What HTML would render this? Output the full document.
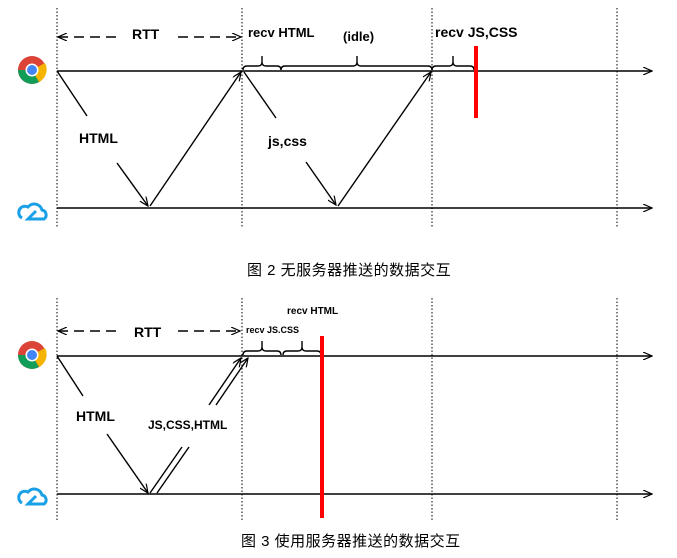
<html><body style="margin:0;background:#fff">
<svg width="677" height="558" xmlns="http://www.w3.org/2000/svg" font-family="Liberation Sans, Noto Sans CJK SC, sans-serif">
<defs><marker id="a" markerWidth="10" markerHeight="8" refX="9" refY="4" orient="auto-start-reverse" markerUnits="userSpaceOnUse"><path d="M0,0 L9,4 L0,8" fill="none" stroke="#000" stroke-width="1.2"/></marker></defs>
<g stroke="#000" stroke-width="1" stroke-dasharray="1.5,2">
<line x1="57" y1="8" x2="57" y2="228"/><line x1="242" y1="8" x2="242" y2="228"/><line x1="432" y1="8" x2="432" y2="228"/><line x1="617" y1="8" x2="617" y2="228"/>
<line x1="57" y1="298" x2="57" y2="520"/><line x1="242" y1="298" x2="242" y2="520"/><line x1="432" y1="298" x2="432" y2="520"/><line x1="617" y1="298" x2="617" y2="520"/>
</g>
<g stroke="#000" stroke-width="1.4" fill="none">
<line x1="57" y1="71" x2="652" y2="71" marker-end="url(#a)"/>
<line x1="57" y1="208" x2="652" y2="208" marker-end="url(#a)"/>
<line x1="57" y1="356" x2="652" y2="356" marker-end="url(#a)"/>
<line x1="57" y1="494" x2="652" y2="494" marker-end="url(#a)"/>
<line x1="58" y1="37" x2="120" y2="37" stroke-dasharray="10,6" marker-start="url(#a)"/>
<line x1="178" y1="37" x2="241" y2="37" stroke-dasharray="10,6" marker-end="url(#a)"/>
<line x1="58" y1="331" x2="120" y2="331" stroke-dasharray="10,6" marker-start="url(#a)"/>
<line x1="178" y1="331" x2="240" y2="331" stroke-dasharray="10,6" marker-end="url(#a)"/>
<line x1="57" y1="71" x2="87" y2="116"/><line x1="117" y1="163" x2="148" y2="206" marker-end="url(#a)"/>
<line x1="150" y1="206" x2="241" y2="72" marker-end="url(#a)"/>
<line x1="244" y1="72" x2="276" y2="118"/><line x1="306" y1="162" x2="336" y2="205" marker-end="url(#a)"/>
<line x1="338" y1="206" x2="431" y2="72" marker-end="url(#a)"/>
<line x1="57" y1="356" x2="83" y2="396"/><line x1="107" y1="434" x2="148" y2="493" marker-end="url(#a)"/>
<line x1="150" y1="493" x2="182" y2="447"/><line x1="157" y1="493" x2="189" y2="447"/>
<line x1="209" y1="405" x2="241" y2="358" marker-end="url(#a)"/><line x1="216" y1="405" x2="248" y2="358" marker-end="url(#a)"/>
<path d="M243,70 q0,-4 4,-4 h11 q4,0 4,-4 v-6 M262,56 v6 q0,4 4,4 h11 q4,0 4,4"/>
<path d="M281,70 q0,-4 4,-4 h68 q4,0 4,-4 v-6 M357,56 v6 q0,4 4,4 h67 q4,0 4,4"/>
<path d="M432,70 q0,-4 4,-4 h13 q4,0 4,-4 v-6 M453,56 v6 q0,4 4,4 h13 q4,0 4,4"/>
<path d="M243,355 q0,-4 4,-4 h11 q4,0 4,-4 v-6 M262,341 v6 q0,4 4,4 h11 q4,0 4,4"/>
<path d="M283,355 q0,-4 4,-4 h11 q4,0 4,-4 v-6 M302,341 v6 q0,4 4,4 h11 q4,0 4,4"/>
</g>
<rect x="474" y="46" width="4" height="72" fill="#f00"/>
<rect x="320" y="336" width="4" height="182" fill="#f00"/>
<g font-weight="bold" font-size="14">
<text x="132" y="39">RTT</text><text x="248" y="37" font-size="13">recv HTML</text><text x="343" y="41" font-size="13">(idle)</text>
<text x="435" y="37">recv JS,CSS</text><text x="79" y="143">HTML</text><text x="268" y="146">js,css</text>
<text x="134" y="337">RTT</text><text x="246" y="333" font-size="9">recv JS.CSS</text><text x="287" y="314" font-size="10">recv HTML</text>
<text x="76" y="421">HTML</text><text x="148" y="429" font-size="12">JS,CSS,HTML</text>
</g>
<g font-size="15"><text x="247" y="275" letter-spacing="0.5">图 2  无服务器推送的数据交互</text><text x="241" y="546" letter-spacing="0.5">图 3  使用服务器推送的数据交互</text></g>
<g>
<circle cx="32" cy="70" r="14" fill="#db4437"/><path d="M32,70 L18,70 A14,14 0 0 0 39,82 Z" fill="#0f9d58"/><path d="M32,70 L39,82 A14,14 0 0 0 45,63 Z" fill="#f4b400"/><circle cx="32" cy="70" r="6.5" fill="#fff"/><circle cx="32" cy="70" r="5" fill="#4285f4"/>
<circle cx="32" cy="355" r="14" fill="#db4437"/><path d="M32,355 L18,355 A14,14 0 0 0 39,367 Z" fill="#0f9d58"/><path d="M32,355 L39,367 A14,14 0 0 0 45,348 Z" fill="#f4b400"/><circle cx="32" cy="355" r="6.5" fill="#fff"/><circle cx="32" cy="355" r="5" fill="#4285f4"/>
<path d="M22,218 a6,6 0 0 1 6,-11 a8,8 0 0 1 14,3 a5,5 0 0 1 2,9 h-16 l8,-8" fill="none" stroke="#1aa0e6" stroke-width="3"/>
<path d="M22,503 a6,6 0 0 1 6,-11 a8,8 0 0 1 14,3 a5,5 0 0 1 2,9 h-16 l8,-8" fill="none" stroke="#1aa0e6" stroke-width="3"/>
</g>
</svg>
</body></html>
